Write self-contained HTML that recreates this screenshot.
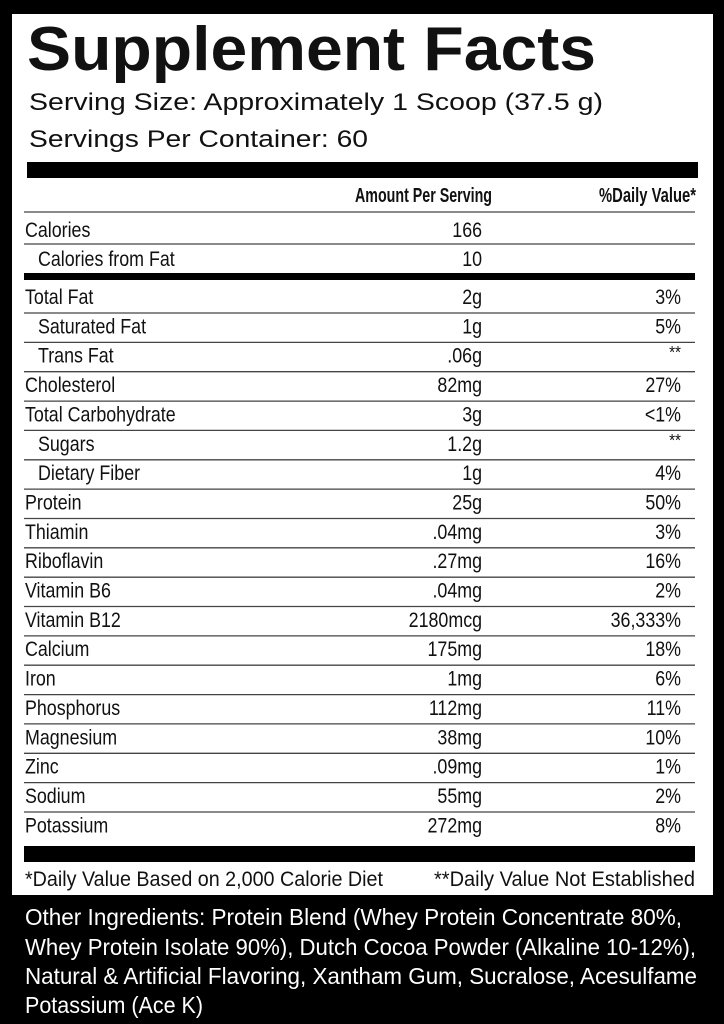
<!DOCTYPE html>
<html><head><meta charset="utf-8"><style>
html,body{margin:0;padding:0;background:#000;}
svg{display:block;}
text{font-family:"Liberation Sans Narrow","Liberation Sans",sans-serif;fill:#111;}
.w{font-family:"Liberation Sans",sans-serif;}
</style></head><body>
<svg width="724" height="1024" viewBox="0 0 724 1024" xmlns="http://www.w3.org/2000/svg">
<rect width="724" height="1024" fill="#000"/>
<rect x="12" y="14" width="701" height="881" fill="#fff"/>
<text class="w" x="27" y="70" font-size="62" font-weight="bold" textLength="569" lengthAdjust="spacingAndGlyphs">Supplement Facts</text>
<text class="w" x="29" y="110" font-size="24" textLength="574" lengthAdjust="spacingAndGlyphs">Serving Size: Approximately 1 Scoop (37.5 g)</text>
<text class="w" x="29" y="147" font-size="24" textLength="339" lengthAdjust="spacingAndGlyphs">Servings Per Container: 60</text>
<rect x="27" y="162" width="671" height="16" fill="#000"/>
<text x="355" y="202" font-size="20" font-weight="bold" textLength="137" lengthAdjust="spacingAndGlyphs">Amount Per Serving</text>
<text x="599" y="202" font-size="20" font-weight="bold" textLength="97" lengthAdjust="spacingAndGlyphs">%Daily Value*</text>
<g stroke="#444" stroke-width="1.3">
<line x1="24" y1="212" x2="695" y2="212"/>
<line x1="24" y1="244" x2="695" y2="244"/>
</g>
<g font-size="21" transform="scale(0.85,1)">
<text x="29.4" y="237">Calories</text><text x="567.1" y="237" text-anchor="end">166</text>
<text x="44.7" y="266">Calories from Fat</text><text x="567.1" y="266" text-anchor="end">10</text>
</g>
<rect x="24" y="273" width="671" height="7" fill="#000"/>
<g stroke="#444" stroke-width="1.3">
<line x1="24" y1="313" x2="695" y2="313"/><line x1="24" y1="342.4" x2="695" y2="342.4"/><line x1="24" y1="371.7" x2="695" y2="371.7"/><line x1="24" y1="401.1" x2="695" y2="401.1"/><line x1="24" y1="430.4" x2="695" y2="430.4"/><line x1="24" y1="459.8" x2="695" y2="459.8"/><line x1="24" y1="489.1" x2="695" y2="489.1"/><line x1="24" y1="518.5" x2="695" y2="518.5"/><line x1="24" y1="547.8" x2="695" y2="547.8"/><line x1="24" y1="577.2" x2="695" y2="577.2"/><line x1="24" y1="606.5" x2="695" y2="606.5"/><line x1="24" y1="635.9" x2="695" y2="635.9"/><line x1="24" y1="665.2" x2="695" y2="665.2"/><line x1="24" y1="694.6" x2="695" y2="694.6"/><line x1="24" y1="723.9" x2="695" y2="723.9"/><line x1="24" y1="753.3" x2="695" y2="753.3"/><line x1="24" y1="782.6" x2="695" y2="782.6"/><line x1="24" y1="812" x2="695" y2="812"/>
</g>
<g font-size="21" transform="scale(0.85,1)">
<text x="29.4" y="304">Total Fat</text><text x="567.1" y="304" text-anchor="end">2g</text><text x="801.2" y="304" text-anchor="end">3%</text>
<text x="44.7" y="333.4">Saturated Fat</text><text x="567.1" y="333.4" text-anchor="end">1g</text><text x="801.2" y="333.4" text-anchor="end">5%</text>
<text x="44.7" y="362.7">Trans Fat</text><text x="567.1" y="362.7" text-anchor="end">.06g</text><text x="801.2" y="358" text-anchor="end" font-size="18">**</text>
<text x="29.4" y="392.1">Cholesterol</text><text x="567.1" y="392.1" text-anchor="end">82mg</text><text x="801.2" y="392.1" text-anchor="end">27%</text>
<text x="29.4" y="421.4">Total Carbohydrate</text><text x="567.1" y="421.4" text-anchor="end">3g</text><text x="801.2" y="421.4" text-anchor="end">&lt;1%</text>
<text x="44.7" y="450.8">Sugars</text><text x="567.1" y="450.8" text-anchor="end">1.2g</text><text x="801.2" y="446" text-anchor="end" font-size="18">**</text>
<text x="44.7" y="480.1">Dietary Fiber</text><text x="567.1" y="480.1" text-anchor="end">1g</text><text x="801.2" y="480.1" text-anchor="end">4%</text>
<text x="29.4" y="509.5">Protein</text><text x="567.1" y="509.5" text-anchor="end">25g</text><text x="801.2" y="509.5" text-anchor="end">50%</text>
<text x="29.4" y="538.8">Thiamin</text><text x="567.1" y="538.8" text-anchor="end">.04mg</text><text x="801.2" y="538.8" text-anchor="end">3%</text>
<text x="29.4" y="568.2">Riboflavin</text><text x="567.1" y="568.2" text-anchor="end">.27mg</text><text x="801.2" y="568.2" text-anchor="end">16%</text>
<text x="29.4" y="597.5">Vitamin B6</text><text x="567.1" y="597.5" text-anchor="end">.04mg</text><text x="801.2" y="597.5" text-anchor="end">2%</text>
<text x="29.4" y="626.9">Vitamin B12</text><text x="567.1" y="626.9" text-anchor="end">2180mcg</text><text x="801.2" y="626.9" text-anchor="end">36,333%</text>
<text x="29.4" y="656.2">Calcium</text><text x="567.1" y="656.2" text-anchor="end">175mg</text><text x="801.2" y="656.2" text-anchor="end">18%</text>
<text x="29.4" y="685.6">Iron</text><text x="567.1" y="685.6" text-anchor="end">1mg</text><text x="801.2" y="685.6" text-anchor="end">6%</text>
<text x="29.4" y="714.9">Phosphorus</text><text x="567.1" y="714.9" text-anchor="end">112mg</text><text x="801.2" y="714.9" text-anchor="end">11%</text>
<text x="29.4" y="744.3">Magnesium</text><text x="567.1" y="744.3" text-anchor="end">38mg</text><text x="801.2" y="744.3" text-anchor="end">10%</text>
<text x="29.4" y="773.6">Zinc</text><text x="567.1" y="773.6" text-anchor="end">.09mg</text><text x="801.2" y="773.6" text-anchor="end">1%</text>
<text x="29.4" y="803">Sodium</text><text x="567.1" y="803" text-anchor="end">55mg</text><text x="801.2" y="803" text-anchor="end">2%</text>
<text x="29.4" y="832.3">Potassium</text><text x="567.1" y="832.3" text-anchor="end">272mg</text><text x="801.2" y="832.3" text-anchor="end">8%</text>
</g>
<rect x="24" y="846" width="671" height="16" fill="#000"/>
<text x="25" y="886" font-size="21" textLength="358" lengthAdjust="spacingAndGlyphs">*Daily Value Based on 2,000 Calorie Diet</text>
<text x="434" y="886" font-size="21" textLength="261" lengthAdjust="spacingAndGlyphs">**Daily Value Not Established</text>
<g font-size="23">
<text x="25" y="925" style="fill:#fff" textLength="657" lengthAdjust="spacingAndGlyphs">Other Ingredients: Protein Blend (Whey Protein Concentrate 80%,</text>
<text x="25" y="955" style="fill:#fff" textLength="671" lengthAdjust="spacingAndGlyphs">Whey Protein Isolate 90%), Dutch Cocoa Powder (Alkaline 10-12%),</text>
<text x="25" y="984" style="fill:#fff" textLength="672" lengthAdjust="spacingAndGlyphs">Natural &amp; Artificial Flavoring, Xantham Gum, Sucralose, Acesulfame</text>
<text x="25" y="1013" style="fill:#fff" textLength="178" lengthAdjust="spacingAndGlyphs">Potassium (Ace K)</text>
</g>
</svg>
</body></html>
